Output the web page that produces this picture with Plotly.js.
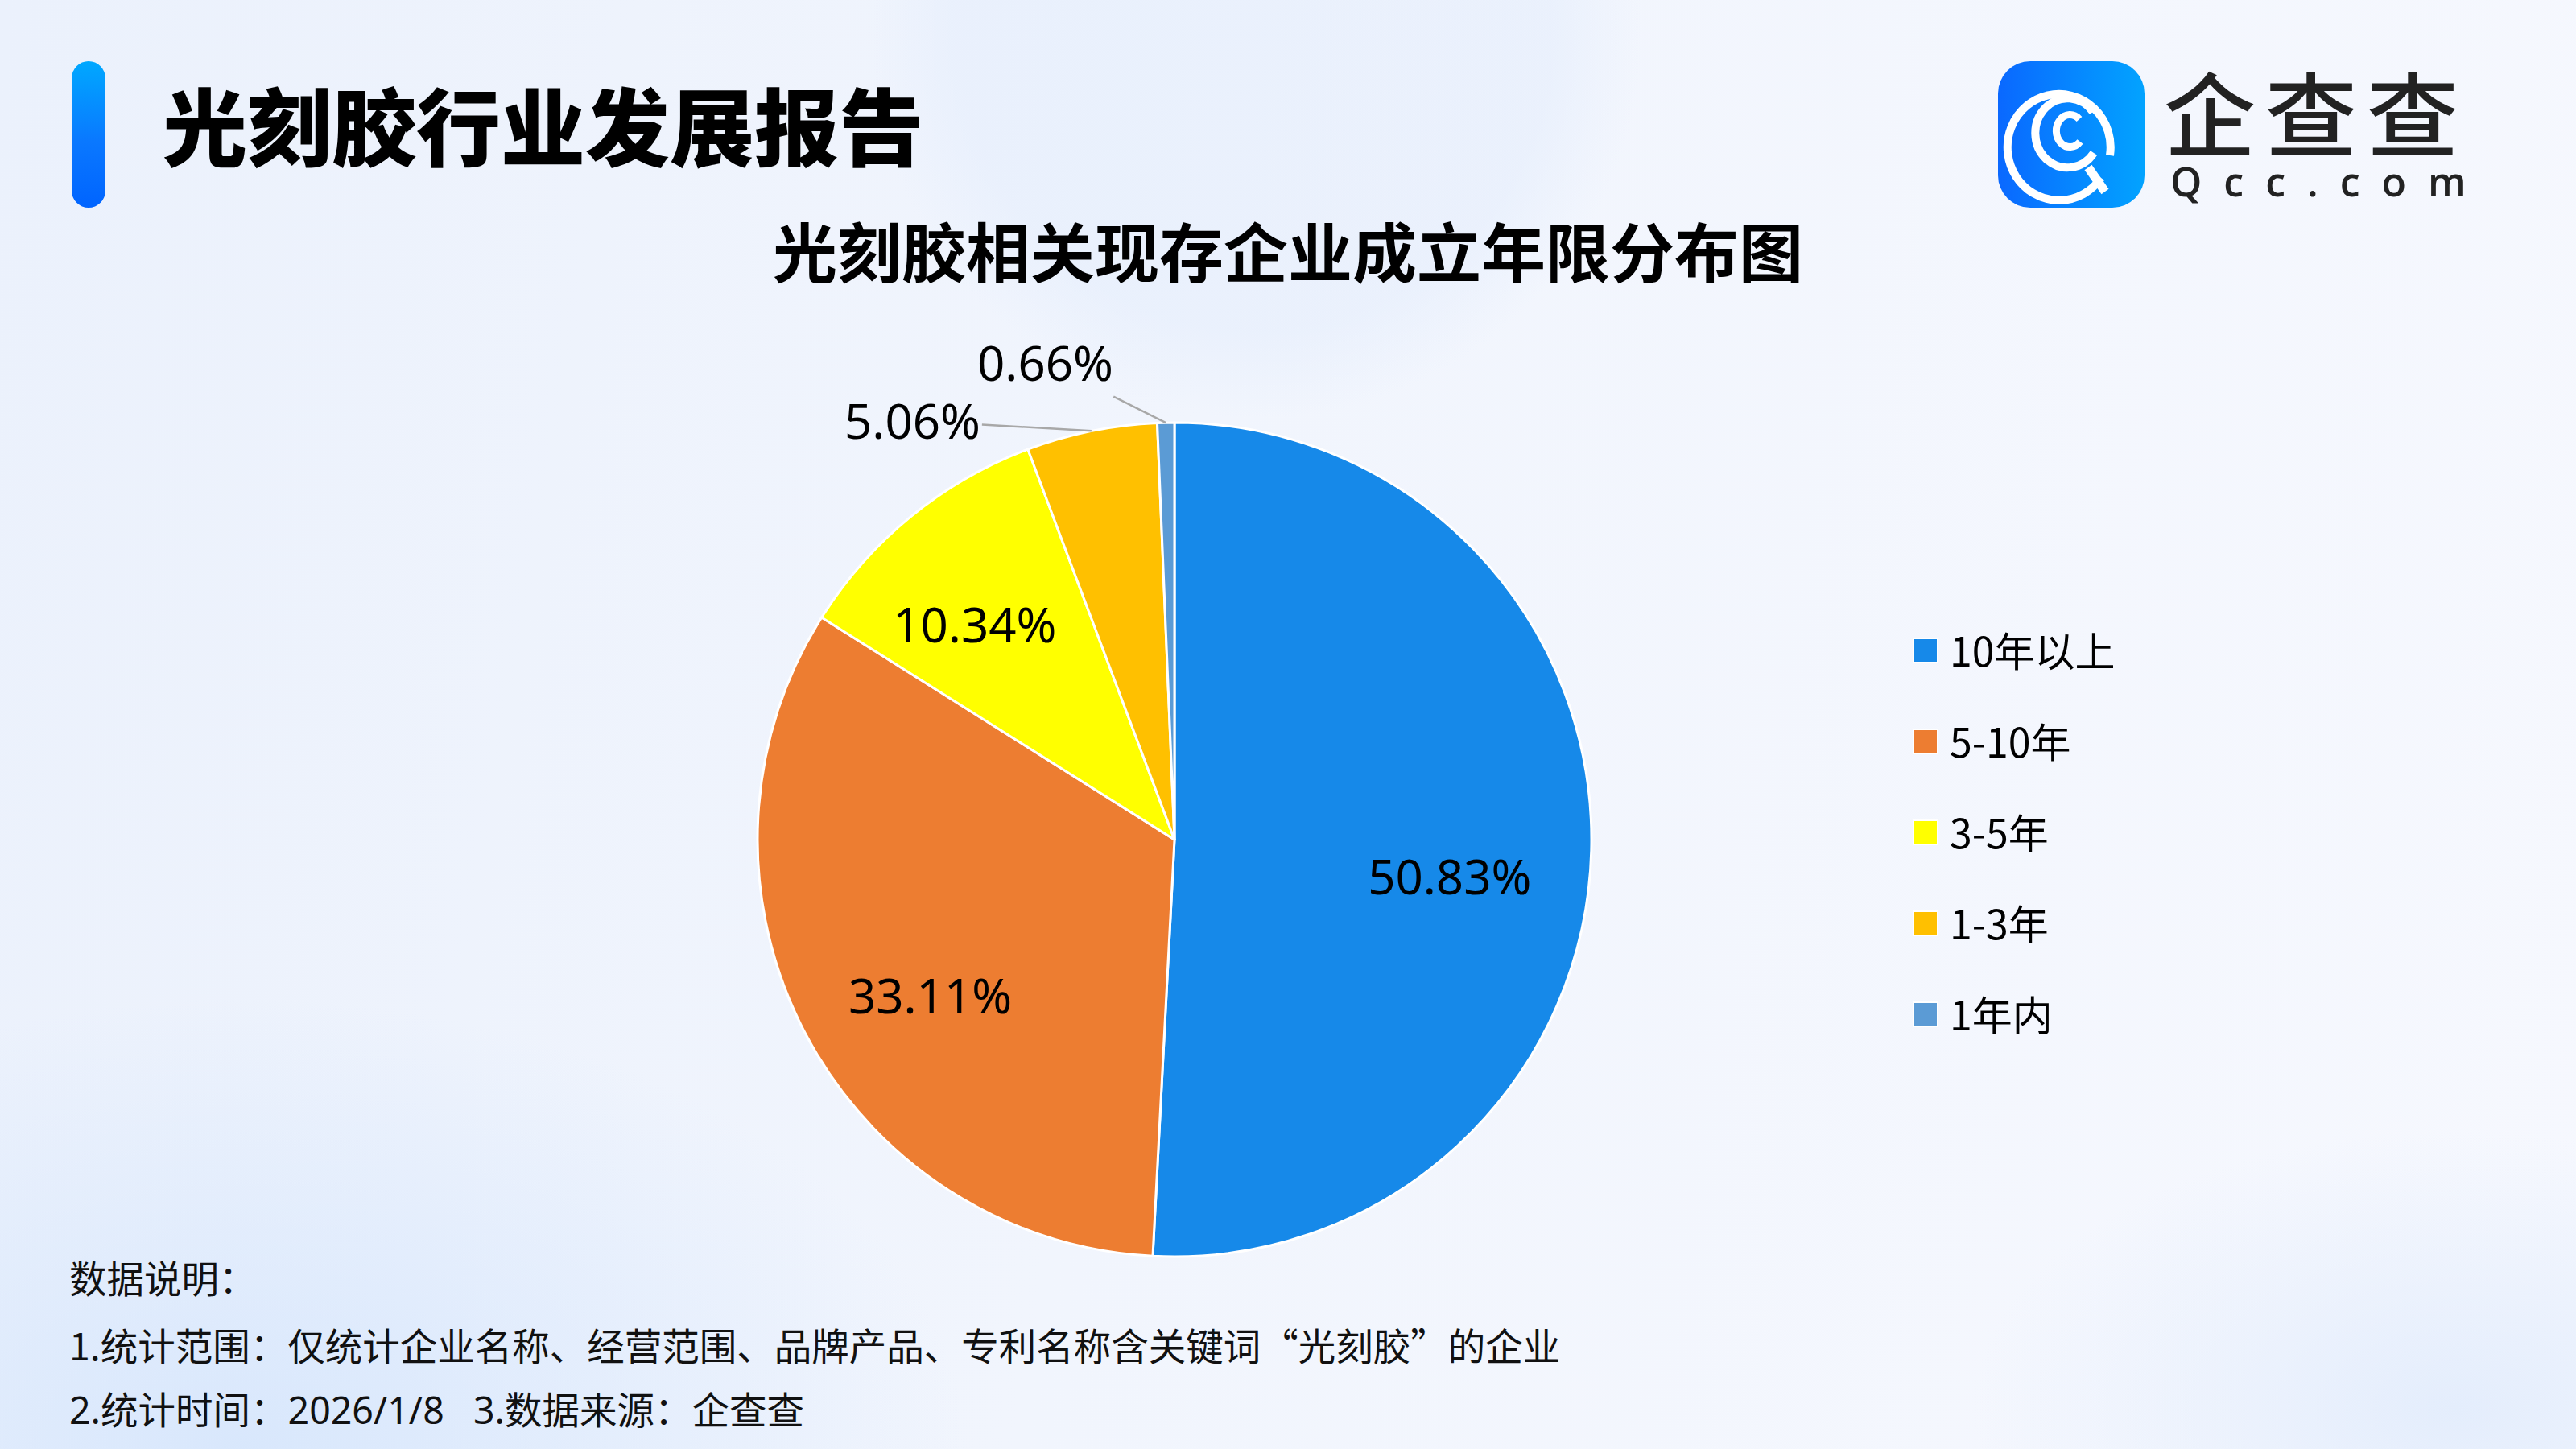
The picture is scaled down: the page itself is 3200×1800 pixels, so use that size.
<!DOCTYPE html>
<html>
<head>
<meta charset="utf-8">
<script src="https://cdn.plot.ly/plotly-3.0.1.min.js"></script>
<style>
  html, body { margin:0; padding:0; }
  body {
    width:3200px; height:1800px; overflow:hidden; position:relative;
    background:
      radial-gradient(circle at 1560px 40px, rgba(228,237,252,0.55) 0px, rgba(228,237,252,0.55) 370px, rgba(228,237,252,0) 480px),
      radial-gradient(ellipse at 300px 1800px, rgba(214,230,252,0.9) 0px, rgba(214,230,252,0) 900px),
      radial-gradient(ellipse at 3050px 1750px, rgba(226,236,252,0.9) 0px, rgba(226,236,252,0) 600px),
      linear-gradient(100deg, #EBF1FC 0%, #F1F5FD 45%, #F6F8FE 100%);
    font-family: "Noto Sans CJK SC", "Noto Sans", sans-serif;
  }
  #chart { position:absolute; left:0; top:0; width:3200px; height:1800px; }
  #bar { position:absolute; left:89px; top:76px; width:42px; height:182px; border-radius:21px;
         background:linear-gradient(180deg,#00A8FF 0%,#0A78FF 55%,#0064FF 100%); }
  #logo { position:absolute; left:2482px; top:76px; width:182px; height:182px; }
  #brand { position:absolute; left:2688px; top:87px; font-family:"Noto Sans CJK SC"; font-weight:500;
           font-size:114px; line-height:100px; color:#222; letter-spacing:12px; white-space:nowrap; }
  #domain { position:absolute; left:2696px; top:205px; font-family:"Open Sans"; font-weight:600;
            font-size:50px; line-height:40px; color:#222; letter-spacing:27px; white-space:nowrap; }
</style>
</head>
<body>
<div id="bar"></div>
<div id="chart"></div>
<svg id="logo" width="182" height="182" viewBox="0 0 182 182">
  <defs>
    <linearGradient id="lg" x1="0" y1="0" x2="1" y2="0">
      <stop offset="0" stop-color="#0A68FF"/>
      <stop offset="1" stop-color="#02A3FF"/>
    </linearGradient>
  </defs>
  <rect x="0" y="0" width="182" height="182" rx="40" ry="40" fill="url(#lg)"/>
  <g fill="none" stroke="#fff" stroke-linecap="butt">
    <path d="M 128 145 A 64 66 0 1 1 139 117" stroke-width="10"/>
    <path d="M 119 114 A 40 43 0 1 1 118 63" stroke-width="10"/>
    <path d="M 102 100 A 17 20 0 1 1 101 72" stroke-width="9"/>
    <path d="M 112 132 L 133 162" stroke-width="11"/>
  </g>
</svg>
<div id="brand">企查查</div>
<div id="domain">Qcc.com</div>
<script>
const categories = ["10年以上", "5-10年", "3-5年", "1-3年", "1年内"];
const shares = [50.83, 33.11, 10.34, 5.06, 0.66];
const sliceColors = ["#1689E9", "#ED7D31", "#FFFF00", "#FFC000", "#5B9BD5"];
const labelInside = [true, true, true, false, false];
const outsideLabelOffsets = [null, null, null, [-222, -13], [-150, -75]];

const mainTitle = "光刻胶行业发展报告";
const chartTitle = "光刻胶相关现存企业成立年限分布图";
const notes = [
  "数据说明：",
  "1.统计范围：仅统计企业名称、经营范围、品牌产品、专利名称含关键词“光刻胶”的企业",
  "2.统计时间：2026/1/8&nbsp;&nbsp;&nbsp;3.数据来源：企查查"
];
const noteFonts = ["Noto Sans CJK SC", "Noto Sans CJK SC", "Noto Sans, Noto Sans CJK SC"];

const W = 3200, H = 1800;
const cx = 1459, cy = 1043, R = 518;
const pieDomain = { x: [(cx - R) / W, (cx + R) / W], y: [(H - cy - R) / H, (H - cy + R) / H] };
const ringDrop = 36 / H;  // inside labels sit slightly below the slice mid-angle, as in the reference
const ringDomain = { x: pieDomain.x, y: [pieDomain.y[0] - ringDrop, pieDomain.y[1] - ringDrop] };
const labelFont = { family: "Noto Sans, sans-serif", size: 60, color: "#000" };

const pieTrace = {
  type: "pie",
  labels: categories,
  values: shares,
  sort: false,
  direction: "clockwise",
  rotation: 0,
  marker: { colors: sliceColors, line: { color: "#FFFFFF", width: 3 } },
  textinfo: "none",
  hoverinfo: "none",
  domain: pieDomain,
  automargin: false
};

// transparent ring used only to place the inside percentage labels mid-way out
const labelRing = {
  type: "pie",
  labels: categories,
  values: shares,
  sort: false,
  direction: "clockwise",
  rotation: 0,
  hole: 0.32,
  marker: { colors: categories.map(() => "rgba(0,0,0,0)"), line: { width: 0 } },
  texttemplate: labelInside.map(b => b ? "%{value:.2f}%" : ""),
  textposition: "inside",
  insidetextorientation: "horizontal",
  insidetextfont: labelFont,
  hoverinfo: "none",
  showlegend: false,
  domain: ringDomain,
  automargin: false
};

// outside labels for the thin slices, anchored on each slice's outer edge midpoint
const total = shares.reduce((a, b) => a + b, 0);
const outsideAnnotations = [];
let cum = 0;
shares.forEach((v, i) => {
  const mid = (cum + v / 2) / total * 2 * Math.PI;
  cum += v;
  if (labelInside[i]) return;
  const ex = cx + R * Math.sin(mid), ey = cy - R * Math.cos(mid);
  outsideAnnotations.push({
    text: v.toFixed(2) + "%", xref: "paper", yref: "paper", x: ex / W, y: 1 - ey / H,
    showarrow: true, arrowhead: 0, arrowwidth: 2.5, arrowcolor: "#A8A8A8", standoff: 0,
    ax: outsideLabelOffsets[i][0], ay: outsideLabelOffsets[i][1], font: labelFont
  });
});

const noteY = [1585, 1669, 1751];
const annotations = [
  { text: mainTitle, xref: "paper", yref: "paper", x: 200 / W, y: 1 - 152 / H, xanchor: "left", yanchor: "middle",
    showarrow: false, font: { family: "Noto Sans CJK SC", size: 105, weight: 900, color: "#000" } }
].concat(notes.map((t, i) => ({
  text: t, xref: "paper", yref: "paper", x: 84 / W, y: 1 - noteY[i] / H, xanchor: "left", yanchor: "middle",
  showarrow: false, font: { family: noteFonts[i], size: 46.5, color: "#111" }
}))).concat(outsideAnnotations);

const layout = {
  width: W, height: H,
  margin: { l: 0, r: 0, t: 0, b: 0 },
  paper_bgcolor: "rgba(0,0,0,0)",
  plot_bgcolor: "rgba(0,0,0,0)",
  title: { text: chartTitle, x: 0.5, xanchor: "center", y: 1 - 316 / H, yanchor: "middle",
           font: { family: "Noto Sans CJK SC", size: 80, weight: 700, color: "#000" } },
  showlegend: true,
  legend: { x: 2362 / W, xanchor: "left", y: 1 - 770 / H, yanchor: "top",
            bgcolor: "rgba(0,0,0,0)", itemwidth: 50,
            font: { family: "Noto Sans CJK SC", size: 50, color: "#000" } },
  annotations: annotations
};

Plotly.newPlot("chart", [pieTrace, labelRing], layout, { staticPlot: true, displayModeBar: false }).then(function (gd) {
  gd.querySelectorAll(".legend [clip-path]").forEach(function (el) { el.removeAttribute("clip-path"); });
  const items = gd.querySelectorAll(".legend .traces");
  items.forEach(function (g, i) {
    g.setAttribute("transform", "translate(0," + (38 + i * 113) + ")");
    const p = g.querySelector("path.legendpie");
    if (p) { p.setAttribute("transform", "translate(30,0) scale(2.5)"); p.style.strokeWidth = "0.8px"; }
  });
});
</script>
</body>
</html>
